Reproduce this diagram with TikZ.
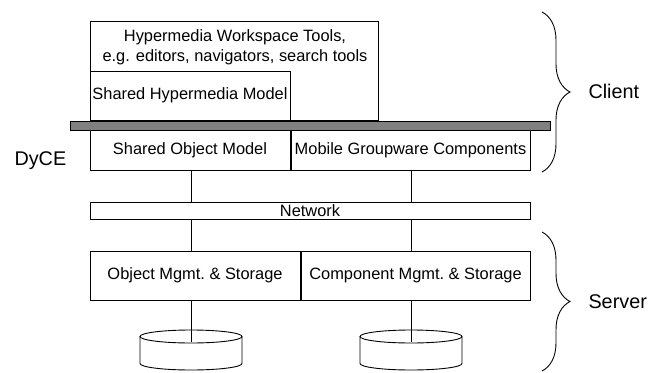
\documentclass[tikz,border=0pt]{standalone}
\usepackage{fontspec}
\setmainfont{Liberation Sans}
\usepackage{tikz}
\usetikzlibrary{positioning}
\usetikzlibrary{decorations.pathreplacing}

\begin{document}
\begin{tikzpicture}[x=1pt,y=-1pt,
    layer/.style={draw,line width=0.9pt,inner sep=0pt,
      font=\fontsize{16.4}{20}\selectfont},
    disk/.style={inner sep=0pt,minimum width=102pt,minimum height=40pt},
    side/.style={font=\fontsize{19.8}{22}\selectfont,anchor=west},
    bracket/.style={draw,line width=0.9pt,decorate,
      decoration={brace,amplitude=28pt}}]
            \useasboundingbox (0,0) rectangle (650,372);
            % Client part
            \node[layer,minimum width=288pt,minimum height=99pt] (tools) at (234,70.5) {};
            \node[font=\fontsize{16.4}{20}\selectfont,align=center] (toolstext) at (235,47) {Hypermedia Workspace Tools,\\e.g. editors, navigators, search tools};
            \node[layer,minimum width=200pt,minimum height=49pt] (shm) at (190,95.5) {Shared Hypermedia Model};
            \node[layer,fill=gray,minimum width=480pt,minimum height=9pt] (dyce) at (310,125.5) {};
            \node[layer,minimum width=200pt,minimum height=40pt] (som) at (190,150) {Shared Object Model};
            \node[layer,minimum width=239pt,minimum height=40pt] (mgc) at (410.5,150) {Mobile Groupware Components};
            \node[side] (dycelabel) at (11,161) {DyCE};
            % Network
            \node[layer,minimum width=440pt,minimum height=17pt] (net) at (310,210.5) {Network};
            % Server part
            \node[layer,minimum width=210pt,minimum height=49pt] (oms) at (195,275.5) {Object Mgmt.\ \& Storage};
            \node[layer,minimum width=229pt,minimum height=49pt] (cms) at (415.5,275.5) {Component Mgmt.\ \& Storage};
            \node[disk] (disk1) at (191,350) {};
            \node[disk] (disk2) at (411,350) {};
            % disks
            \foreach \cx in {191,411} {
              \draw[line width=0.9pt] (\cx,336.5) ellipse [x radius=51, y radius=6.5];
              \draw[line width=0.9pt] (\cx-51,336.5) -- (\cx-51,363.5)
                arc [start angle=180, end angle=0, x radius=51, y radius=6.5] -- (\cx+51,336.5);
            }
            \draw[line width=0.9pt] (disk1 |- som.south) -- (disk1 |- net.north);
            \draw[line width=0.9pt] (disk2 |- mgc.south) -- (disk2 |- net.north);
            \draw[line width=0.9pt] (disk1 |- net.south) -- (disk1 |- oms.north);
            \draw[line width=0.9pt] (disk2 |- net.south) -- (disk2 |- cms.north);
            \draw[line width=0.9pt,shorten >=8pt] (disk1 |- oms.south) -- (disk1.center);
            \draw[line width=0.9pt,shorten >=8pt] (disk2 |- cms.south) -- (disk2.center);
            % braces
            \coordinate (ctop) at (542,12);
            \coordinate (cbot) at (542,172);
            \coordinate (stop) at (542,232);
            \coordinate (sbot) at (542,371);
            \draw[bracket] (ctop) -- (cbot);
            \draw[bracket] (stop) -- (sbot);
            \node[side] (client) at (585,91) {Client};
            \node[side] (server) at (585,302) {Server};
        \end{tikzpicture}
\end{document}
